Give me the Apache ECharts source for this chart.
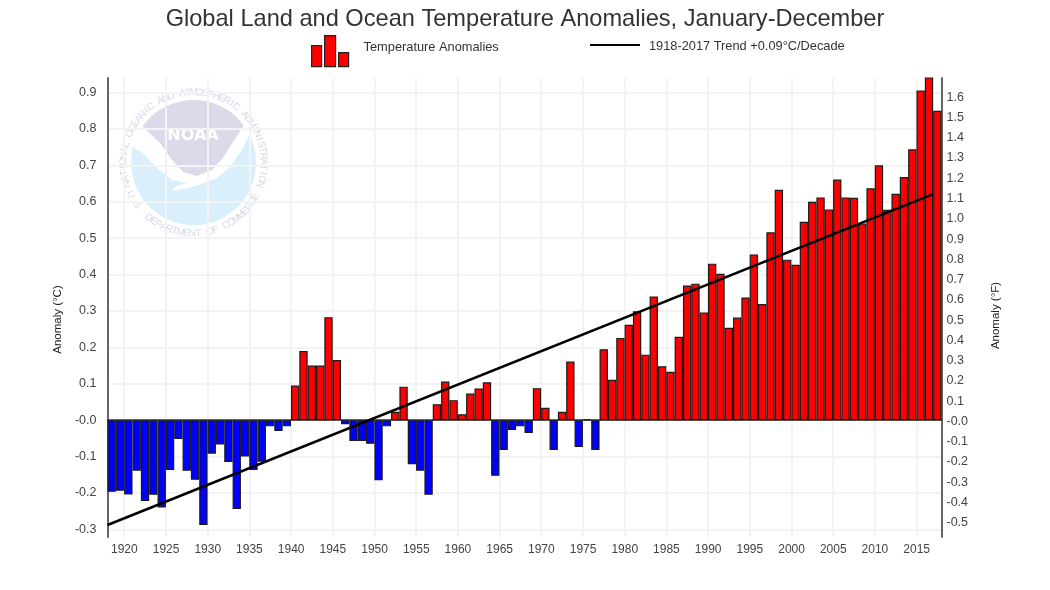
<!DOCTYPE html>
<html>
<head>
<meta charset="utf-8">
<title>Global Land and Ocean Temperature Anomalies</title>
<script src="https://cdn.jsdelivr.net/npm/echarts@6/dist/echarts.min.js"></script>
<style>
html, body { margin: 0; padding: 0; background: #fff; }
#chart { width: 1050px; height: 590px; }
</style>
</head>
<body>
<div id="chart"></div>
<script>
var firstYear = 1918;
var anomalies = [
  -0.197, -0.194, -0.204, -0.139, -0.222, -0.205, -0.24, -0.137, -0.052, -0.139,
  -0.164, -0.288, -0.092, -0.067, -0.115, -0.244, -0.1, -0.137, -0.114, -0.017,
  -0.03, -0.017, 0.095, 0.19, 0.15, 0.15, 0.283, 0.165, -0.011, -0.057,
  -0.057, -0.065, -0.165, -0.017, 0.023, 0.092, -0.121, -0.139, -0.205, 0.044,
  0.106, 0.055, 0.016, 0.073, 0.087, 0.104, -0.153, -0.082, -0.027, -0.017,
  -0.035, 0.088, 0.034, -0.082, 0.023, 0.161, -0.074, 0.002, -0.082, 0.195,
  0.111, 0.226, 0.262, 0.299, 0.18, 0.34, 0.148, 0.133, 0.229, 0.37,
  0.375, 0.296, 0.43, 0.402, 0.254, 0.282, 0.337, 0.455, 0.319, 0.516,
  0.633, 0.441, 0.427, 0.545, 0.6, 0.612, 0.579, 0.661, 0.612, 0.611,
  0.54, 0.637, 0.7, 0.578, 0.622, 0.668, 0.744, 0.906, 0.96, 0.85
];
var years = anomalies.map(function (v, i) { return String(firstYear + i); });
var trendYears = [1918, 2017];
var trendValues = [-0.288, 0.621];
var celsiusTicks = [-0.3, -0.2, -0.1, 0, 0.1, 0.2, 0.3, 0.4, 0.5, 0.6, 0.7, 0.8, 0.9];
var fahrenheitTicks = [-0.5, -0.4, -0.3, -0.2, -0.1, 0, 0.1, 0.2, 0.3, 0.4, 0.5, 0.6, 0.7, 0.8, 0.9,
  1.0, 1.1, 1.2, 1.3, 1.4, 1.5, 1.6];

var barName = 'Temperature Anomalies';
var trendName = '1918-2017 Trend +0.09\u00B0C/Decade';
var labelFont = '"Liberation Sans", Arial, sans-serif';
var labelColor = '#444';

function tickText(v) {
  return v === 0 ? '-0.0' : v.toFixed(1);
}
function everyFifth(index) {
  return (firstYear + index) % 5 === 0;
}

var chart = echarts.init(document.getElementById('chart'), null, { renderer: 'canvas' });
chart.setOption({
  animation: false,
  backgroundColor: '#fff',
  title: {
    text: 'Global Land and Ocean Temperature Anomalies, January-December',
    left: 'center', top: 2,
    textStyle: { fontFamily: labelFont, fontSize: 23.6, fontWeight: 'normal', color: '#333' }
  },
  legend: [
    {
      left: 306, top: 30, itemWidth: 37, itemHeight: 31, itemGap: 0, selectedMode: false,
      data: [{
        name: barName,
        icon: 'path://M0,10H10V31H0Z M13,0H24V31H13Z M27,17H37V31H27Z',
        itemStyle: { color: '#f00', borderColor: '#222', borderWidth: 1.2 }
      }],
      formatter: function (name) { return '{up|' + name + '}'; },
      textStyle: {
        rich: { up: { fontFamily: labelFont, fontSize: 12.8, color: '#333', padding: [0, 0, 7, 10] } }
      }
    },
    {
      left: 585, top: 35, itemWidth: 50, itemHeight: 16, selectedMode: false,
      data: [{ name: trendName, icon: 'path://M0,7H50V9H0Z', itemStyle: { color: '#000', borderWidth: 0 } }],
      formatter: function (name) { return '{down|' + name + '}'; },
      textStyle: {
        rich: { down: { fontFamily: labelFont, fontSize: 12.8, color: '#333', padding: [3, 0, 0, 4] } }
      }
    }
  ],
  grid: { left: 107.5, right: 108.5, top: 78, bottom: 53, containLabel: false },
  xAxis: [
    {
      type: 'category', data: years, position: 'bottom',
      axisLine: { show: false, onZero: false }, axisTick: { show: false },
      axisLabel: { interval: function (i) { return everyFifth(i); }, color: labelColor, fontFamily: labelFont,
        fontSize: 12, margin: 7, padding: [0, 8, 0, 0] },
      splitLine: { show: true, interval: function (i) { return everyFifth(i); }, lineStyle: { color: '#f3f3f3', width: 2 } }
    },
    {
      // value axis for the trend and the zero line, ticks sit at the left edge of each year
      type: 'value', min: 1918, max: 2018, position: 'bottom',
      axisLine: { show: true, onZero: true, lineStyle: { color: '#333', width: 1.5 } },
      axisTick: { show: false }, axisLabel: { show: false }, splitLine: { show: false }
    }
  ],
  yAxis: [
    {
      type: 'value', min: -0.321, max: 0.94, position: 'left',
      name: 'Anomaly (\u00B0C)', nameLocation: 'middle', nameGap: 44,
      nameTextStyle: { fontFamily: labelFont, fontSize: 11.5, color: '#222', padding: [0, 24, 0, 0] },
      axisLine: { show: true, onZero: false, lineStyle: { color: '#666', width: 2 } },
      axisTick: { show: false, customValues: celsiusTicks },
      axisLabel: { customValues: celsiusTicks, formatter: tickText, color: labelColor, fontFamily: labelFont, fontSize: 12.5, margin: 11 },
      splitLine: { show: true, lineStyle: { color: '#f3f3f3', width: 2 } }
    },
    {
      type: 'value', min: -0.57, max: 1.695, position: 'right',
      name: 'Anomaly (\u00B0F)', nameLocation: 'middle', nameGap: 48,
      nameTextStyle: { fontFamily: labelFont, fontSize: 11.5, color: '#222', padding: [0, 16, 0, 0] },
      axisLine: { show: true, onZero: false, lineStyle: { color: '#666', width: 2 } },
      axisTick: { show: false, customValues: fahrenheitTicks },
      axisLabel: { customValues: fahrenheitTicks, formatter: tickText, color: labelColor, fontFamily: labelFont, fontSize: 12.5, margin: 5 },
      splitLine: { show: false }
    }
  ],
  series: [
    {
      name: barName, type: 'bar', xAxisIndex: 0, yAxisIndex: 0,
      barCategoryGap: 0, clip: true,
      data: anomalies.map(function (v) {
        return { value: v, itemStyle: { color: v < 0 ? '#00f' : '#f00' } };
      }),
      itemStyle: { borderColor: '#1a1a1a', borderWidth: 1.2 }
    },
    {
      name: trendName, type: 'line', xAxisIndex: 1, yAxisIndex: 0,
      symbol: 'none', z: 5,
      data: trendYears.map(function (y, i) { return [y, trendValues[i]]; }),
      lineStyle: { color: '#000', width: 2.5 }
    }
  ]
});

// NOAA seal watermark, decoration behind the grid
var sealX = 193.6, sealY = 162.5, sealR = 62.5;

function ringPoints(fromDeg, toDeg) {
  var pts = [];
  for (var d = fromDeg; d <= toDeg; d += 4) {
    var rad = d * Math.PI / 180;
    pts.push([sealX + sealR * Math.sin(rad), sealY - sealR * Math.cos(rad)]);
  }
  return pts;
}
// letters laid out round the ring, one text element per character
function arcText(str, r, startDeg, stepDeg, bottom) {
  return str.split('').map(function (ch, i) {
    var deg = startDeg + i * stepDeg;
    var rad = deg * Math.PI / 180;
    return {
      type: 'text', z: -1,
      x: sealX + r * Math.sin(rad),
      y: sealY - r * Math.cos(rad),
      rotation: (bottom ? 180 - deg : -deg) * Math.PI / 180,
      style: { text: ch, fill: '#d9d9ea', font: '10px ' + labelFont, align: 'center', verticalAlign: 'middle' }
    };
  });
}

var bowlEdge = [[243, 127], [233, 142], [223, 158], [212, 170], [197, 176], [183, 172], [172, 160], [160, 143], [143, 127]];
var wingEdge = [[132, 147], [143, 153], [157, 168], [172, 180], [187, 183], [175, 187], [173, 191], [193, 187], [217, 178],
  [230, 167], [242, 150], [250, 133]];

var seal = [
  { type: 'polygon', z: -1, shape: { points: ringPoints(-55, 54).concat(bowlEdge) }, style: { fill: '#dadaea' } },
  { type: 'polygon', z: -1, shape: { points: wingEdge.concat(ringPoints(62, 284)) }, style: { fill: '#d9effb' } },
  { type: 'text', z: -1, x: 193, y: 136,
    style: { text: 'NOAA', fill: '#fff', font: 'bold 16px "DejaVu Sans", sans-serif', align: 'center', verticalAlign: 'middle' } }
].concat(
  arcText('NATIONAL OCEANIC AND ATMOSPHERIC ADMINISTRATION', 70, -108, 4.7, false),
  arcText('U.S. DEPARTMENT OF COMMERCE', 71, 243, -4.77, true)
);
chart.setOption({ graphic: seal });
</script>
</body>
</html>
